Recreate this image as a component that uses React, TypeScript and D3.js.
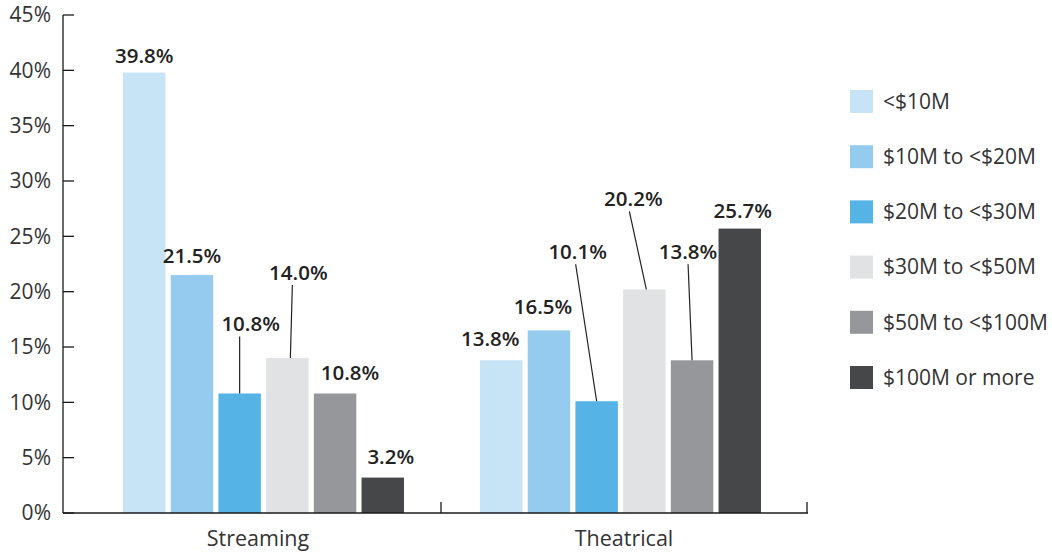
import React from 'react';
import * as d3 from 'd3';

// chart values
const categories = ['Streaming', 'Theatrical'];
const budgetBands = ['<$10M', '$10M to <$20M', '$20M to <$30M', '$30M to <$50M', '$50M to <$100M', '$100M or more'];
const streamingShares = [39.8, 21.5, 10.8, 14.0, 10.8, 3.2];
const theatricalShares = [13.8, 16.5, 10.1, 20.2, 13.8, 25.7];
const yTicks = [0, 5, 10, 15, 20, 25, 30, 35, 40, 45];

const bandColors = ['#c7e4f6', '#94cbee', '#56b3e5', '#e1e2e4', '#96979b', '#464749'];

// label placement relative to bar top/center (px); leader: start x from label center, end x from bar center
type Note = { dx: number; dy: number; leader?: [number, number] };
const streamingNotes: Note[] = [
  { dx: 0, dy: -10 },
  { dx: 0, dy: -12 },
  { dx: 11, dy: -62, leader: [-11, 0] },
  { dx: 11, dy: -78, leader: [-6, 3] },
  { dx: 15, dy: -13 },
  { dx: 8, dy: -14 },
];
const theatricalNotes: Note[] = [
  { dx: -11, dy: -14 },
  { dx: -6, dy: -16 },
  { dx: -19, dy: -142, leader: [-2, 0] },
  { dx: -11, dy: -83, leader: [-4, 2] },
  { dx: -4, dy: -101, leader: [0, 0] },
  { dx: 3, dy: -11 },
];

const seriesByCat: Record<string, number[]> = {
  Streaming: streamingShares,
  Theatrical: theatricalShares,
};
const notesByCat: Record<string, Note[]> = {
  Streaming: streamingNotes,
  Theatrical: theatricalNotes,
};

const W = 1052;
const H = 552;
const axisLeft = 63;
const axisRight = 808;
const plotTop = 15;
const plotBottom = 513;
const FONT = '"Open Sans", "DejaVu Sans", sans-serif';

export default function App() {
  const y = d3.scaleLinear().domain([0, 45]).range([plotBottom, plotTop]);
  const x0 = d3.scaleBand<string>().domain(categories).range([85.5, 799.5]);
  const x1 = d3.scaleBand<string>().domain(budgetBands).range([37.5, 318.5]).paddingInner(0.11);
  const xAxis = d3.scaleBand<string>().domain(categories).range([75, 807]);

  return (
    <svg width={W} height={H} style={{ position: 'absolute', left: 0, top: 0 }} fontFamily={FONT}>
      {/* y axis */}
      <line x1={axisLeft} x2={axisLeft} y1={plotTop} y2={plotBottom} stroke="#1a1a1a" strokeWidth={1.3} />
      {yTicks.map(t => (
        <g key={t} transform={`translate(0,${y(t)})`}>
          <line x1={axisLeft} x2={axisLeft + 11} stroke="#1a1a1a" strokeWidth={1.3} />
          <text x={51} dy="0.35em" textAnchor="end" fontSize={21} fill="#333">{t}%</text>
        </g>
      ))}

      {/* bars */}
      {categories.map(cat => (
        <g key={cat} transform={`translate(${x0(cat)},0)`}>
          {seriesByCat[cat].map((v, i) => (
            <rect
              key={budgetBands[i]}
              x={x1(budgetBands[i])}
              y={y(v)}
              width={x1.bandwidth()}
              height={y(0) - y(v)}
              fill={bandColors[i]}
            />
          ))}
        </g>
      ))}

      {/* value labels */}
      {categories.map(cat => (
        <g key={cat + '-labels'} transform={`translate(${x0(cat)},0)`}>
          {seriesByCat[cat].map((v, i) => {
            const n = notesByCat[cat][i];
            const cx = (x1(budgetBands[i]) ?? 0) + x1.bandwidth() / 2;
            const top = y(v);
            const lx = cx + n.dx;
            const ly = top + n.dy;
            return (
              <g key={i}>
                {n.leader && (
                  <line
                    x1={lx + n.leader[0]}
                    y1={ly + 5}
                    x2={cx + n.leader[1]}
                    y2={top}
                    stroke="#222"
                    strokeWidth={1.2}
                  />
                )}
                <text x={lx} y={ly} textAnchor="middle" fontSize={20.5} fontWeight={600} fill="#222">
                  {v.toFixed(1)}%
                </text>
              </g>
            );
          })}
        </g>
      ))}

      {/* x axis */}
      <line x1={axisLeft} x2={axisRight} y1={plotBottom} y2={plotBottom} stroke="#1a1a1a" strokeWidth={1.3} />
      {categories.map(cat => (
        <g key={cat + '-axis'}>
          <line
            x1={(xAxis(cat) ?? 0) + xAxis.bandwidth()}
            x2={(xAxis(cat) ?? 0) + xAxis.bandwidth()}
            y1={plotBottom}
            y2={plotBottom - 11}
            stroke="#1a1a1a"
            strokeWidth={1.3}
          />
          <text
            x={(xAxis(cat) ?? 0) + xAxis.bandwidth() / 2}
            y={546}
            textAnchor="middle"
            fontSize={21.5}
            fill="#333"
          >
            {cat}
          </text>
        </g>
      ))}

      {/* legend */}
      {budgetBands.map((b, i) => (
        <g key={b} transform={`translate(850,${90 + i * 55.2})`}>
          <rect width={23} height={23} fill={bandColors[i]} />
          <text x={33} y={11.5} dy="0.35em" fontSize={21} fill="#333">{b}</text>
        </g>
      ))}
    </svg>
  );
}
